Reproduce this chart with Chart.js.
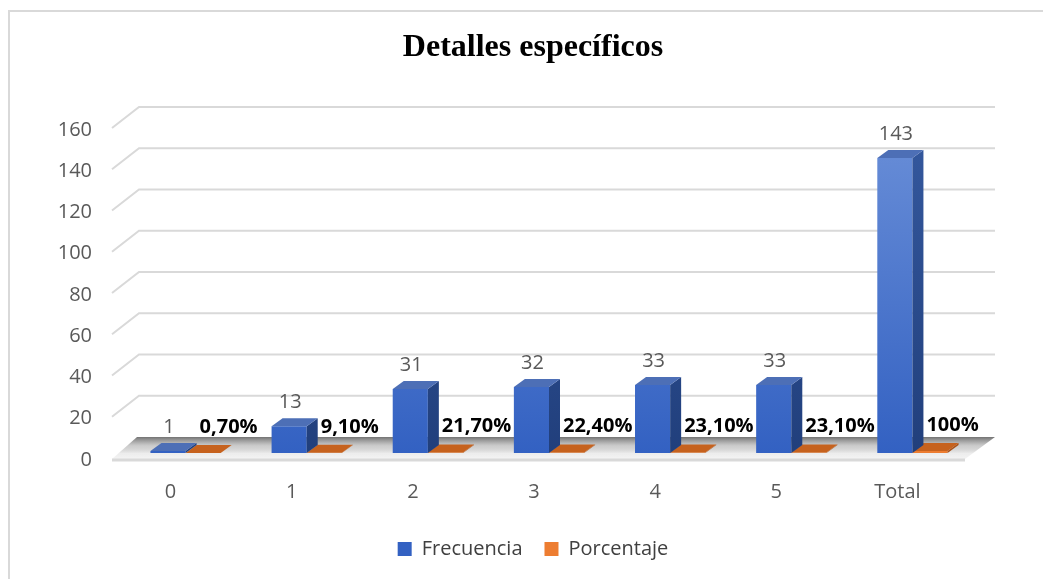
<!DOCTYPE html>
<html>
<head>
<meta charset="utf-8">
<script src="https://cdn.jsdelivr.net/npm/chart.js@4.4.1/dist/chart.umd.min.js"></script>
<style>
  html, body { margin: 0; padding: 0; background: #fff; overflow: hidden; width: 1043px; height: 579px; }
  #frame { position: absolute; left: 8px; top: 10px; width: 1100px; height: 700px; border: 2px solid #d9d9d9; box-sizing: border-box; }
  #wrap { position: absolute; left: 0; top: 0; width: 1043px; height: 579px; }
</style>
</head>
<body>
<div id="frame"></div>
<div id="wrap"><canvas id="c" width="1043" height="579"></canvas></div>
<script>
const categories = ['0', '1', '2', '3', '4', '5', 'Total'];
const frecuencia = [1, 13, 31, 32, 33, 33, 143];
const porcentaje = [0.007, 0.091, 0.217, 0.224, 0.231, 0.231, 1];
const porcentajeLabels = ['0,70%', '9,10%', '21,70%', '22,40%', '23,10%', '23,10%', '100%'];
const yMin = 0, yMax = 160, yStep = 20;
const chartTitle = 'Detalles específicos';
const seriesNames = ['Frecuencia', 'Porcentaje'];

function vGrad(chart, c1, c2) {
  const a = chart.chartArea;
  if (!a) return c2;
  const g = chart.ctx.createLinearGradient(0, a.top, 0, a.bottom);
  g.addColorStop(0, c1);
  g.addColorStop(1, c2);
  return g;
}

const fx3d = {
  id: 'fx3d',
  beforeDatasetsDraw(chart) {
    const { ctx, chartArea: a, scales: { y } } = chart;
    ctx.save();
    const y0 = y.getPixelForValue(0);
    // floor
    const g = ctx.createLinearGradient(0, y0 - 16, 0, y0 + 6);
    g.addColorStop(0, 'rgba(100,100,100,0.9)');
    g.addColorStop(0.4, 'rgba(170,170,170,0.6)');
    g.addColorStop(0.75, 'rgba(235,235,235,0.9)');
    g.addColorStop(1, '#f4f4f4');
    ctx.beginPath();
    ctx.moveTo(a.left - 13, y0 + 6);
    ctx.lineTo(a.left + 12, y0 - 16);
    ctx.lineTo(a.right + 22, y0 - 16);
    ctx.lineTo(a.right - 8, y0 + 6);
    ctx.closePath();
    ctx.fillStyle = g;
    ctx.fill();
    ctx.strokeStyle = '#d9d9d9';
    ctx.lineWidth = 3;
    ctx.beginPath();
    ctx.moveTo(a.left - 13, y0 + 7);
    ctx.lineTo(a.right - 8, y0 + 7);
    ctx.stroke();
    // back wall gridlines
    ctx.lineWidth = 2;
    y.ticks.forEach(t => {
      if (t.value === 0) return;
      const p = y.getPixelForValue(t.value);
      ctx.beginPath();
      ctx.moveTo(a.left - 13, p + 5);
      ctx.lineTo(a.left + 14, p - 16);
      ctx.lineTo(a.right + 22, p - 16);
      ctx.stroke();
    });
    ctx.restore();
  },
  afterDatasetsDraw(chart) {
    const { ctx } = chart;
    const dx = 11, dy = 8;
    const faces = [
      { side: vGrad(chart, '#35599f', '#213f7c'), top: '#4d6fb6' },
      { side: '#a8521a', top: '#c6621e' }
    ];
    ctx.save();
    [1, 0].forEach(di => {
      const meta = chart.getDatasetMeta(di);
      meta.data.forEach(el => {
        const { x, y, base, width } = el.getProps(['x', 'y', 'base', 'width'], true);
        const l = x - width / 2, r = x + width / 2;
        ctx.fillStyle = faces[di].side;
        ctx.beginPath();
        ctx.moveTo(r, y); ctx.lineTo(r + dx, y - dy); ctx.lineTo(r + dx, base - dy); ctx.lineTo(r, base);
        ctx.closePath(); ctx.fill();
        ctx.fillStyle = faces[di].top;
        ctx.beginPath();
        ctx.moveTo(l, y); ctx.lineTo(l + dx, y - dy); ctx.lineTo(r + dx, y - dy); ctx.lineTo(r, y);
        ctx.closePath(); ctx.fill();
      });
    });
    // data labels
    ctx.textBaseline = 'middle';
    const m0 = chart.getDatasetMeta(0);
    ctx.font = '20px "Open Sans"';
    ctx.fillStyle = '#595959';
    ctx.textAlign = 'center';
    m0.data.forEach((el, i) => {
      ctx.fillText(String(frecuencia[i]), el.x + 1, el.y - 24);
    });
    const m1 = chart.getDatasetMeta(1);
    ctx.font = 'bold 20px "Open Sans"';
    ctx.fillStyle = '#000000';
    ctx.textAlign = 'left';
    m1.data.forEach((el, i) => {
      ctx.fillText(porcentajeLabels[i], el.x - el.width / 2 + 14, el.y - 26);
    });
    ctx.restore();
  }
};

new Chart(document.getElementById('c'), {
  type: 'bar',
  data: {
    labels: categories,
    datasets: [
      {
        label: seriesNames[0],
        data: frecuencia,
        backgroundColor: (c) => vGrad(c.chart, '#6a8fd8', '#3361c2'),
        borderWidth: 0
      },
      {
        label: seriesNames[1],
        data: porcentaje,
        backgroundColor: '#ed7d31',
        borderWidth: 0
      }
    ]
  },
  options: {
    responsive: false,
    animation: false,
    events: [],
    layout: { padding: { top: 10, left: 59, right: 36, bottom: 10 } },
    datasets: { bar: { categoryPercentage: 0.58, barPercentage: 1 } },
    scales: {
      x: {
        grid: { display: false, drawTicks: false },
        border: { display: false },
        ticks: { padding: 27, labelOffset: -15, color: '#595959', font: { family: 'Open Sans', size: 20 } },
        afterFit: (s) => { s.height = 64; }
      },
      y: {
        min: yMin, max: yMax,
        grid: { display: false, drawTicks: false },
        border: { display: false },
        ticks: { stepSize: yStep, padding: 33, labelOffset: 7, color: '#595959', font: { family: 'Open Sans', size: 20 } },
        afterFit: (s) => { s.width = 66; }
      },
      yPad: {
        position: 'right',
        display: true,
        grid: { display: false, drawTicks: false },
        border: { display: false },
        ticks: { display: false },
        afterFit: (s) => { s.width = 34; }
      }
    },
    plugins: {
      title: {
        display: true,
        text: chartTitle,
        color: '#000000',
        font: { family: 'Liberation Serif', size: 32, weight: 'bold' },
        padding: { top: 19, bottom: 55.6 }
      },
      legend: {
        position: 'bottom',
        labels: {
          boxWidth: 14, boxHeight: 14, padding: 22,
          color: '#404040',
          font: { family: 'Open Sans', size: 20 }
        }
      },
      tooltip: { enabled: false }
    }
  },
  plugins: [fx3d]
});
</script>
</body>
</html>
